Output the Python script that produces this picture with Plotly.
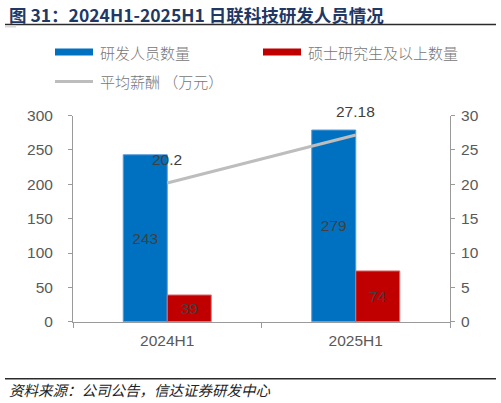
import plotly.graph_objs as go

# data
periods = ['2024H1', '2025H1']
rd_staff = [243, 279]
master_staff = [39, 74]
avg_salary = [20.2, 27.18]

series_names = ['研发人员数量', '硕士研究生及以上数量', '平均薪酬 （万元）']
title_text = '图 31：2024H1-2025H1 日联科技研发人员情况'
source_text = '资料来源：公司公告，信达证券研发中心'

W, H = 501, 403
BLUE = '#0070C0'
RED = '#C00000'
GREY_LINE = '#BDBDBD'
AXIS = '#9A9A9A'
TICK_FONT = dict(family='Arial, Liberation Sans', size=15.5, color='#595959')
LABEL_FONT = dict(family='Arial, Liberation Sans', size=15.5, color='#404040')
CJK = 'Noto Sans CJK SC'

# the photographed page comes out squeezed a little vertically, so pixel rows
# measured on the reference are mapped back to page rows first
VSCALE, VOFF = 0.957, 9.5


def px(x):
    return x / W


def py(y):
    return 1 - ((y - VOFF) / VSCALE) / H


fig = go.Figure()

fig.add_trace(go.Bar(x=periods, y=rd_staff, name=series_names[0],
                     marker=dict(color=BLUE, line=dict(color='#5A9BD8', width=1)),
                     text=rd_staff, textposition='inside', insidetextanchor='middle',
                     textfont=LABEL_FONT, constraintext='none', showlegend=False,
                     hoverinfo='skip'))
fig.add_trace(go.Bar(x=periods, y=master_staff, name=series_names[1],
                     marker=dict(color=RED, line=dict(color='#E07070', width=1)),
                     text=master_staff, textposition='inside', insidetextanchor='middle',
                     textfont=LABEL_FONT, constraintext='none', showlegend=False,
                     hoverinfo='skip'))
fig.add_trace(go.Scatter(x=periods, y=avg_salary, name=series_names[2], yaxis='y2',
                         mode='lines', line=dict(color=GREY_LINE, width=3),
                         showlegend=False, hoverinfo='skip'))

# labels above the salary line
for p, v in zip(periods, avg_salary):
    fig.add_annotation(x=p, y=v, xref='x', yref='y2', text=f'{v:g}', showarrow=False,
                       yanchor='middle', yshift=23, font=LABEL_FONT)

shapes = []
annotations = []

# title and rules
annotations.append(dict(x=px(7), y=py(15), xref='paper', yref='paper', xanchor='left',
                        yanchor='middle', showarrow=False, text=f'<b>{title_text}</b>',
                        font=dict(family=CJK, size=17.5, color='#1F3864')))
shapes.append(dict(type='line', xref='paper', yref='paper', x0=px(5), x1=px(496),
                   y0=py(25), y1=py(25), line=dict(color='#2B2B2B', width=1.5)))
shapes.append(dict(type='rect', xref='paper', yref='paper', x0=px(5), x1=px(16),
                   y0=py(28), y1=py(26), line=dict(width=0), fillcolor='#D9D9D9'))
shapes.append(dict(type='line', xref='paper', yref='paper', x0=px(5), x1=px(496),
                   y0=py(379), y1=py(379), line=dict(color='#2B2B2B', width=1.5)))
annotations.append(dict(x=px(7), y=py(390), xref='paper', yref='paper', xanchor='left',
                        yanchor='middle', showarrow=False, text=f'<i>{source_text}</i>',
                        font=dict(family=CJK, size=14.5, color='#222222')))

# legend drawn by hand to get the wide swatches
legend_items = [
    (series_names[0], BLUE, 55, 52.5, 7),
    (series_names[1], RED, 263, 52.5, 7),
    (series_names[2], GREY_LINE, 55, 82, 3),
]
for name, color, x0, yc, th in legend_items:
    shapes.append(dict(type='rect', xref='paper', yref='paper', x0=px(x0), x1=px(x0 + 38),
                       y0=py(yc + th / 2), y1=py(yc - th / 2), line=dict(width=0),
                       fillcolor=color))
    annotations.append(dict(x=px(x0 + 43), y=py(yc), xref='paper', yref='paper',
                            xanchor='left', yanchor='middle', showarrow=False, text=name,
                            font=dict(family=CJK, size=15, color='#767676', weight=300)))

fig.update_layout(
    width=W, height=H,
    margin=dict(l=0, r=0, t=0, b=0),
    paper_bgcolor='white', plot_bgcolor='white',
    barmode='group', bargap=0.533, bargroupgap=0,
    shapes=shapes,
    xaxis=dict(domain=[px(73), px(450)], range=[-0.5, 1.5], type='category',
               tickson='boundaries', ticks='outside', ticklen=5, tickcolor=AXIS,
               showline=True, linecolor=AXIS, linewidth=1, showgrid=False,
               tickfont=TICK_FONT, ticklabelstandoff=5),
    yaxis=dict(domain=[py(322), py(116)], range=[0, 300], dtick=50, ticks='outside',
               ticklen=4, tickcolor=AXIS, showline=True, linecolor=AXIS, linewidth=1,
               showgrid=False, zeroline=False, tickfont=TICK_FONT, ticklabelstandoff=12),
    yaxis2=dict(overlaying='y', side='right', range=[0, 30], dtick=5, ticks='outside',
                ticklen=4, tickcolor=AXIS, showline=True, linecolor=AXIS, linewidth=1,
                showgrid=False, zeroline=False, tickfont=TICK_FONT, ticklabelstandoff=3),
)
for a in annotations:
    fig.add_annotation(**a)

# the page body has a default 8px margin; drop it so the figure sits at the origin
fig.write_html('out.html', config={'displayModeBar': False},
               post_script="document.body.style.margin='0';")
